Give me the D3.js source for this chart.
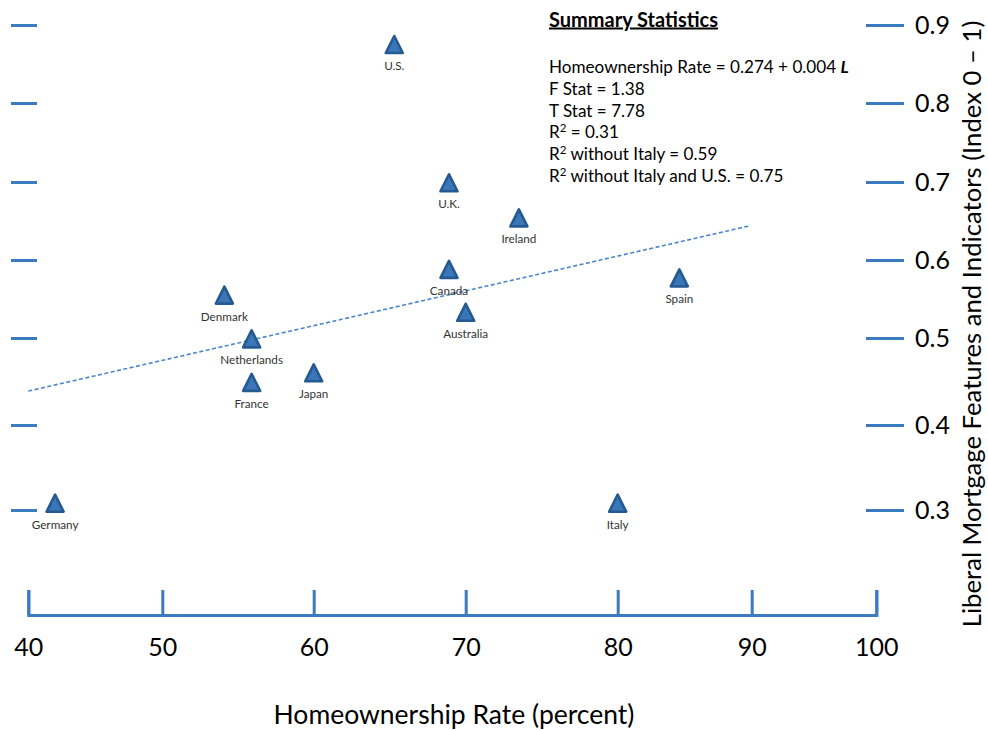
<!DOCTYPE html>
<html>
<head>
<meta charset="utf-8">
<script src="https://cdn.jsdelivr.net/npm/d3@7"></script>
<style>
  html, body { margin: 0; padding: 0; background: #fff; }
  svg { display: block; font-family: Lato, "Open Sans", sans-serif; }
</style>
</head>
<body>
<svg id="chart" width="988" height="731"></svg>
<script>
// ---- data ----
const countries = ["U.S.", "U.K.", "Ireland", "Canada", "Australia", "Spain", "Denmark", "Netherlands", "France", "Japan", "Germany", "Italy"];
const homeownership = [65.3, 68.9, 73.5, 68.9, 70.0, 84.6, 54.1, 55.9, 55.9, 60.0, 42.0, 80.0];
const mortgageIndex = [0.875, 0.699, 0.654, 0.588, 0.533, 0.577, 0.555, 0.499, 0.449, 0.460, 0.308, 0.308];
const trendX = [40, 89.9];
const trendY = [0.439, 0.644];
const xTicks = [40, 50, 60, 70, 80, 90, 100];
const yTicks = [0.3, 0.4, 0.5, 0.6, 0.7, 0.8, 0.9];
const statsTitle = "Summary Statistics";
const statsLines = [
  [{t: "Homeownership Rate = 0.274 + 0.004 "}, {t: "L", bi: true}],
  [{t: "F Stat = 1.38"}],
  [{t: "T Stat = 7.78"}],
  [{t: "R"}, {t: "2", sup: true}, {t: " = 0.31"}],
  [{t: "R"}, {t: "2", sup: true}, {t: " without Italy = 0.59"}],
  [{t: "R"}, {t: "2", sup: true}, {t: " without Italy and U.S. = 0.75"}]
];
const xTitle = "Homeownership Rate (percent)";
const yTitle = "Liberal Mortgage Features and Indicators (Index 0 \u2013 1)";

// ---- styles ----
const axisColor = "#3b7bc0";
const svg = d3.select("#chart");

// piecewise scales matching the hand-placed axis ticks of the original
const x = d3.scaleLinear().domain(xTicks).range([28.3, 162.3, 313.7, 465.7, 617.7, 751.7, 876.3]);
const y = d3.scaleLinear().domain(yTicks).range([510, 425, 338, 260, 182, 103, 25]);

// x axis
const xAxis = svg.append("g")
  .attr("transform", "translate(0,615)")
  .call(d3.axisBottom(x).tickValues(xTicks).tickSizeInner(-25).tickSizeOuter(-25).tickPadding(23).tickFormat(d3.format("d")));
xAxis.selectAll("path.domain").attr("stroke", axisColor).attr("stroke-width", 3).attr("fill", "none");
xAxis.selectAll(".tick line").attr("stroke", axisColor).attr("stroke-width", 3);
xAxis.selectAll(".tick text").attr("fill", "#000").attr("font-size", 25).attr("font-family", "Lato, sans-serif");

// right y axis
const yAxisR = svg.append("g")
  .attr("transform", "translate(866,0)")
  .call(d3.axisRight(y).tickValues(yTicks).tickSize(38).tickPadding(11).tickFormat(d3.format(".1f")));
yAxisR.select("path.domain").remove();
yAxisR.selectAll(".tick line").attr("stroke", axisColor).attr("stroke-width", 3);
yAxisR.selectAll(".tick text").attr("fill", "#000").attr("font-size", 25).attr("font-family", "Lato, sans-serif");

// left y tick marks (no labels)
const yAxisL = svg.append("g")
  .attr("transform", "translate(11,0)")
  .call(d3.axisRight(y).tickValues(yTicks).tickSize(26).tickFormat(""));
yAxisL.select("path.domain").remove();
yAxisL.selectAll(".tick line").attr("stroke", axisColor).attr("stroke-width", 3);

// trend line
svg.append("path")
  .datum(trendX.map((d, i) => [d, trendY[i]]))
  .attr("d", d3.line().x(d => x(d[0])).y(d => y(d[1])))
  .attr("fill", "none")
  .attr("stroke", "#4a86cc")
  .attr("stroke-width", 1.6)
  .attr("stroke-dasharray", "4,2.5");

// triangle marker symbol (isosceles, width = height)
const tri = {
  draw(ctx, size) {
    const s = Math.sqrt(size);
    ctx.moveTo(0, -s / 2);
    ctx.lineTo(s / 2, s / 2);
    ctx.lineTo(-s / 2, s / 2);
    ctx.closePath();
  }
};
const pts = countries.map((c, i) => ({c, x: homeownership[i], y: mortgageIndex[i]}));
const g = svg.append("g");
g.selectAll("path.pt").data(pts).join("path")
  .attr("class", "pt")
  .attr("transform", d => `translate(${x(d.x)},${y(d.y)})`)
  .attr("d", d3.symbol().type(tri).size(17 * 17))
  .attr("fill", "#3a76b8")
  .attr("stroke", "#245a90")
  .attr("stroke-width", 2.6)
  .attr("stroke-linejoin", "round");
g.selectAll("text.lbl").data(pts).join("text")
  .attr("class", "lbl")
  .attr("x", d => x(d.x))
  .attr("y", d => y(d.y) + 25.5)
  .attr("text-anchor", "middle")
  .attr("font-size", 11.7)
  .attr("fill", "#333")
  .text(d => d.c);

// summary statistics
svg.append("text")
  .attr("x", 549).attr("y", 26.5)
  .attr("font-size", 20).attr("font-weight", "bold")
  .attr("text-decoration", "underline")
  .attr("fill", "#000")
  .text(statsTitle);
statsLines.forEach((parts, i) => {
  const t = svg.append("text")
    .attr("x", 549).attr("y", 73 + i * 21.8)
    .attr("font-size", 17.1).attr("fill", "#000");
  parts.forEach(p => {
    const ts = t.append("tspan").text(p.t);
    if (p.bi) ts.attr("font-weight", "bold").attr("font-style", "italic");
    if (p.sup) ts.attr("font-size", 11.5).attr("dy", -6.5);
    else if (parts.some(q => q.sup) && p !== parts[0]) ts.attr("dy", 6.5);
  });
});

// axis titles
svg.append("text")
  .attr("x", 454).attr("y", 724)
  .attr("text-anchor", "middle")
  .attr("font-size", 26.5).attr("fill", "#000")
  .text(xTitle);
svg.append("text")
  .attr("transform", "translate(981,324) rotate(-90)")
  .attr("text-anchor", "middle")
  .attr("font-size", 25.7).attr("fill", "#000")
  .text(yTitle);
</script>
</body>
</html>
